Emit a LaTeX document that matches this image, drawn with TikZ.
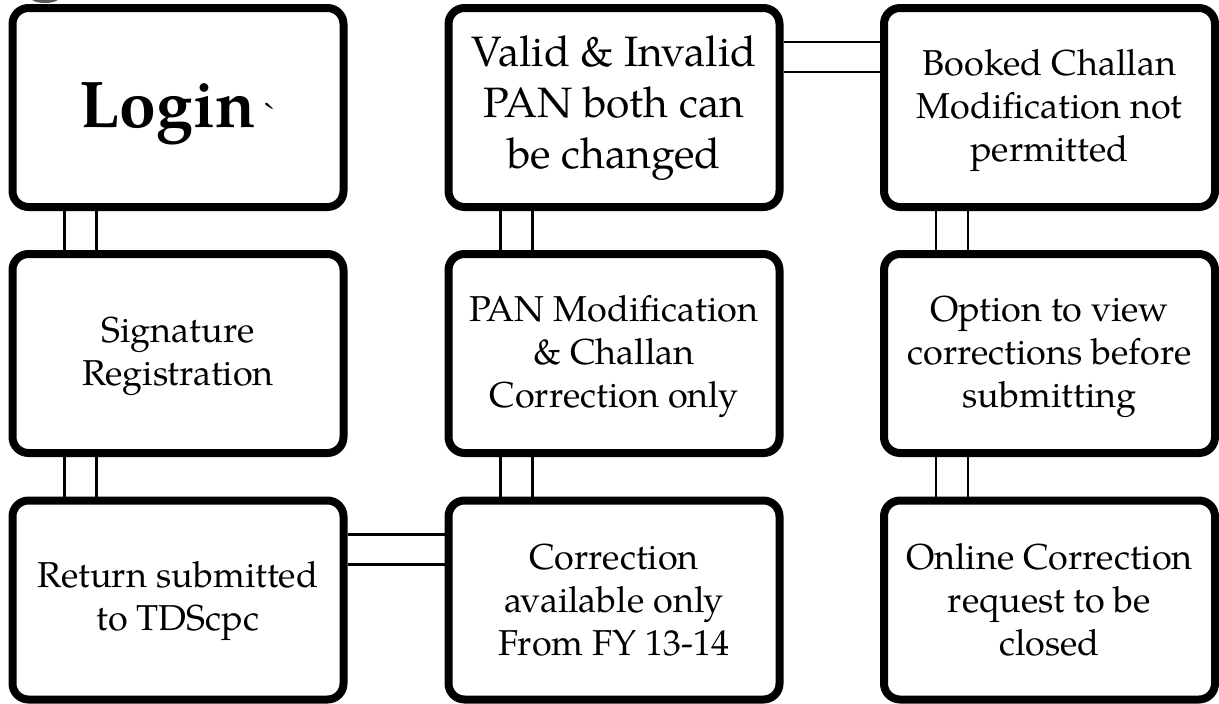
\documentclass[tikz,border=0pt]{standalone}
\usepackage{fontspec}
\setmainfont{texgyrepagella}[Extension=.otf, UprightFont=*-regular, BoldFont=*-bold, ItalicFont=*-italic, BoldItalicFont=*-bolditalic]
\usetikzlibrary{calc}

\begin{document}
\begin{tikzpicture}[x=1pt, y=-1pt,
  card/.style={draw=black, line width=8pt, rounded corners=16pt, fill=white,
    minimum width=331pt, minimum height=199pt, inner sep=0pt},
  cardtext/.style={align=center, inner sep=0pt, font=\fontsize{36}{43}\selectfont},
  link/.style={line width=2.6pt, draw=black}]
\useasboundingbox (0,0) rectangle (1219,704);

% small grey mark at the top edge
\fill[black!65] (45,-3) ellipse [x radius=15, y radius=6];

% boxes, row by row; the wording sits in a centred label
\node[card, label={[cardtext, yshift=-6pt]center:{{\bfseries\fontsize{66}{79}\selectfont Login} \textasciigrave}}]
  (login) at (178,107.5) {};
\node[card, label={[cardtext, font=\fontsize{42.5}{51}\selectfont, yshift=-1pt]center:{Valid \& Invalid\\PAN both can\\be changed}}]
  (valid) at (614,107.5) {};
\node[card, label={[cardtext, yshift=-3pt]center:{Booked Challan\\Modification not\\permitted}}]
  (booked) at (1049.5,107.5) {};

\node[card, label={[cardtext, yshift=-3pt]center:{Signature\\Registration}}]
  (sign) at (178,353.5) {};
\node[card, label={[cardtext, yshift=-3pt]center:{PAN Modification\\\& Challan\\Correction only}}]
  (panmod) at (614,353.5) {};
\node[card, label={[cardtext, yshift=-3pt]center:{Option to view\\corrections before\\submitting}}]
  (view) at (1049.5,353.5) {};

\node[card, label={[cardtext, yshift=-1pt]center:{Return submitted\\to TDScpc}}]
  (ret) at (178,600) {};
\node[card, label={[cardtext]center:{Correction\\available only\\From FY 13-14}}]
  (corr) at (614,600) {};
\node[card, label={[cardtext]center:{Online Correction\\request to be\\closed}}]
  (online) at (1049.5,600) {};

% double-line links between the boxes
\foreach \a/\b in {login/sign, sign/ret, valid/panmod, panmod/corr, booked/view, view/online}{
  \draw[link] ($(\a.south west)+(56,0)$) -- ($(\b.north west)+(56,0)$);
  \draw[link] ($(\a.south west)+(88,0)$) -- ($(\b.north west)+(88,0)$);
}
\foreach \a/\b in {valid/booked, ret/corr}{
  \draw[link] ($(\a.north east)+(0,38)$) -- ($(\b.north west)+(0,38)$);
  \draw[link] ($(\a.north east)+(0,68)$) -- ($(\b.north west)+(0,68)$);
}
\end{tikzpicture}
\end{document}
